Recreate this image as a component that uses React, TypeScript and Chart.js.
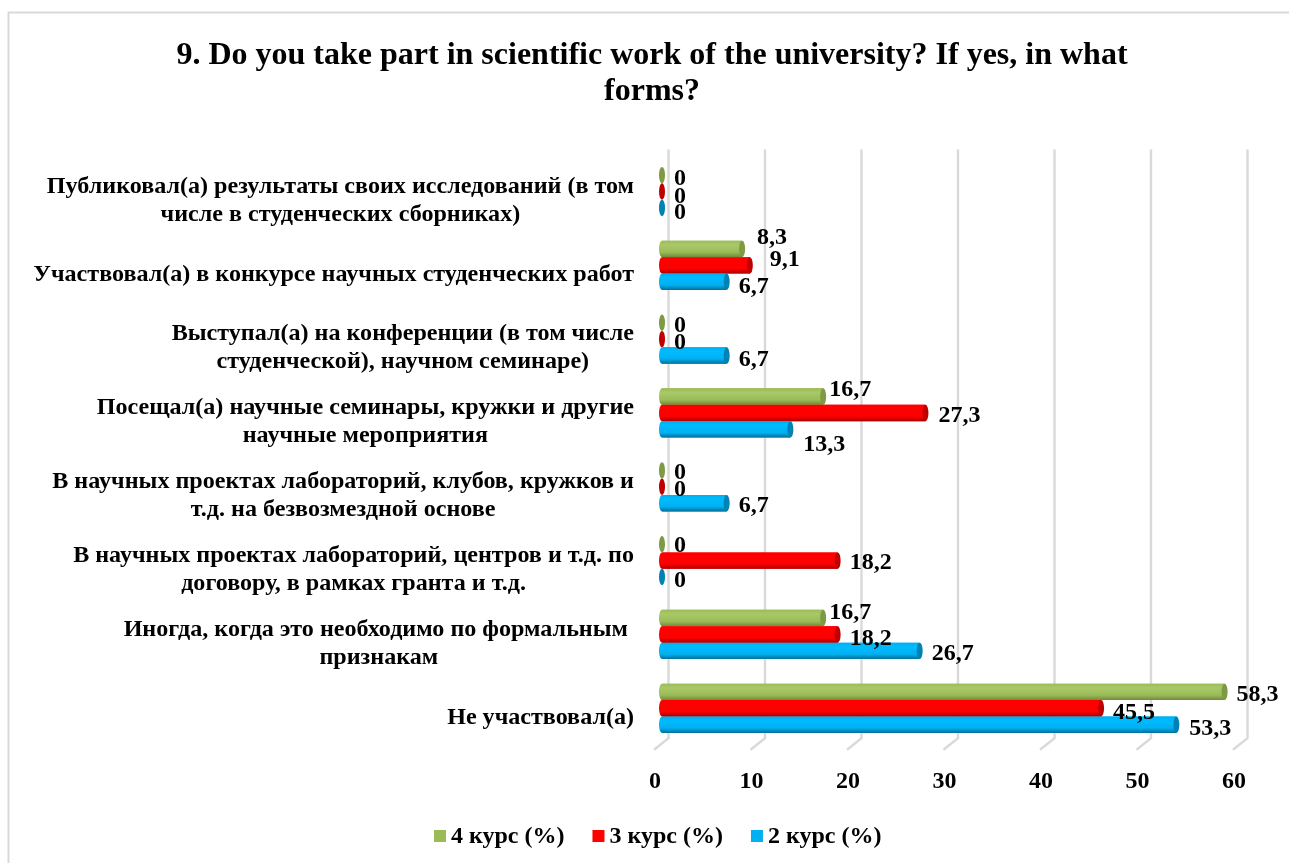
import React, { useEffect, useRef } from "react";
import { Chart, registerables } from "chart.js";

Chart.register(...registerables);

const TITLE_LINES = [
  "9. Do you take part in scientific work of the university? If yes, in what",
  "forms?",
];

const CATEGORY_LINES = [
  ["Публиковал(а) результаты своих исследований (в том", "числе в студенческих сборниках)"],
  ["Участвовал(а) в конкурсе научных студенческих работ"],
  ["Выступал(а) на конференции (в том числе", "студенческой), научном семинаре)"],
  ["Посещал(а) научные семинары, кружки и другие", "научные мероприятия"],
  ["В научных проектах лабораторий, клубов, кружков и", "т.д. на безвозмездной основе"],
  ["В научных проектах лабораторий, центров и т.д. по", "договору, в рамках гранта и т.д."],
  ["Иногда, когда это необходимо по формальным ", "признакам"],
  ["Не участвовал(а)"],
];

const COURSE_4 = [0, 8.3, 0, 16.7, 0, 0, 16.7, 58.3];
const COURSE_3 = [0, 9.1, 0, 27.3, 0, 18.2, 18.2, 45.5];
const COURSE_2 = [0, 6.7, 6.7, 13.3, 6.7, 0, 26.7, 53.3];

const SERIES_NAMES = ["4 курс (%)", "3 курс (%)", "2 курс (%)"];
const SERIES_COLORS = ["#9BBB59", "#FF0000", "#00B0F0"];
const SERIES_DARK = ["#6F8A3A", "#A80000", "#006F9A"];
const SERIES_LIGHT = ["#A9C866", "#FF0000", "#00BBFF"];
const SERIES_CAP = ["#7E9A45", "#C00000", "#0083B3"];

// Label nudges, [dx from bar end, dy from bar centre], per series then per category.
const LABEL_SHIFTS: number[][][] = [
  [[18, 2], [30, -13], [18, 1], [27, -9], [18, 0], [18, 0], [27, -7], [33, 1]],
  [[18, 3], [35, -8], [18, 2], [34, 1], [18, 1], [33, 0], [33, 2], [33, 3]],
  [[18, 3], [27, 3], [27, 2], [34, 13], [27, 1], [18, 2], [33, 1], [34, 2]],
];

const SERIF = '"Liberation Serif", "Times New Roman", serif';
const GRID = "#D9D9D9";
const fmt = (v: number) => String(v).replace(".", ",");

const frame3d = {
  id: "frame3d",
  beforeDatasetsDraw(chart: any) {
    const { ctx, scales, chartArea } = chart;
    ctx.save();
    ctx.strokeStyle = GRID;
    ctx.lineWidth = 2;
    ctx.beginPath();
    ctx.moveTo(8.5, chart.height);
    ctx.lineTo(8.5, 12.5);
    ctx.lineTo(chart.width, 12.5);
    ctx.stroke();
    ctx.lineWidth = 2.4;
    scales.x.ticks.forEach((t: any) => {
      const x = scales.x.getPixelForValue(t.value);
      ctx.beginPath();
      ctx.moveTo(x + 6.5, chartArea.top - 5);
      ctx.lineTo(x + 6.5, chartArea.bottom - 7);
      ctx.lineTo(x - 8, chartArea.bottom + 4.5);
      ctx.stroke();
    });
    ctx.restore();
  },
};

const cylinders = {
  id: "cylinders",
  afterDatasetsDraw(chart: any) {
    const { ctx } = chart;
    ctx.save();
    chart.data.datasets.forEach((ds: any, d: number) => {
      chart.getDatasetMeta(d).data.forEach((bar: any, i: number) => {
        const p = bar.getProps(["x", "y", "base", "height"], true);
        const top = p.y - p.height / 2;
        const bottom = p.y + p.height / 2;
        const rx = 3;
        const ry = p.height / 2;
        if (ds.data[i] > 0) {
          const g = ctx.createLinearGradient(0, top, 0, bottom);
          g.addColorStop(0, SERIES_COLORS[d]);
          g.addColorStop(0.25, SERIES_LIGHT[d]);
          g.addColorStop(0.7, SERIES_COLORS[d]);
          g.addColorStop(1, SERIES_DARK[d]);
          ctx.fillStyle = g;
          ctx.beginPath();
          ctx.ellipse(p.base, p.y, rx, ry, 0, Math.PI / 2, (3 * Math.PI) / 2);
          ctx.lineTo(p.x, top);
          ctx.lineTo(p.x, bottom);
          ctx.closePath();
          ctx.fill();
        }
        ctx.fillStyle = SERIES_CAP[d];
        ctx.beginPath();
        ctx.ellipse(p.x, p.y, rx, ry, 0, 0, Math.PI * 2);
        ctx.fill();
      });
    });
    ctx.restore();
  },
  afterDraw(chart: any) {
    const { ctx, scales } = chart;
    ctx.save();
    ctx.fillStyle = "#000000";
    ctx.textBaseline = "middle";
    // value labels
    ctx.font = `bold 24px ${SERIF}`;
    ctx.textAlign = "center";
    chart.data.datasets.forEach((ds: any, d: number) => {
      chart.getDatasetMeta(d).data.forEach((bar: any, i: number) => {
        const [dx, dy] = LABEL_SHIFTS[d][i];
        ctx.fillText(fmt(ds.data[i]), bar.x + dx, bar.y + dy + 2);
      });
    });
    // category labels: each block centred on itself, right edge fixed
    ctx.font = `bold 24.1px ${SERIF}`;
    CATEGORY_LINES.forEach((lines, i) => {
      const w = Math.max(...lines.map((l) => ctx.measureText(l).width));
      const cx = 634 - w / 2;
      const cy = scales.y.getPixelForTick(i) + 9;
      lines.forEach((l, k) => {
        ctx.fillText(l, cx, cy + (k - (lines.length - 1) / 2) * 28);
      });
    });
    // legend
    ctx.font = `bold 24px ${SERIF}`;
    ctx.textAlign = "left";
    let x = 434;
    chart.data.datasets.forEach((ds: any, d: number) => {
      ctx.fillStyle = SERIES_COLORS[d];
      ctx.fillRect(x, 830, 12, 12);
      ctx.fillStyle = "#000000";
      ctx.fillText(ds.label, x + 17, 837);
      x += 17 + ctx.measureText(ds.label).width + 28;
    });
    ctx.restore();
  },
};

export default function App() {
  const ref = useRef<HTMLCanvasElement>(null);
  useEffect(() => {
    const chart = new Chart(ref.current as HTMLCanvasElement, {
      type: "bar",
      data: {
        labels: CATEGORY_LINES.map((l) => l.join(" ")),
        datasets: [COURSE_4, COURSE_3, COURSE_2].map((data, d) => ({
          label: SERIES_NAMES[d],
          data,
          backgroundColor: SERIES_COLORS[d],
          borderWidth: 0,
          categoryPercentage: 0.667,
          barPercentage: 1,
        })),
      },
      options: {
        indexAxis: "y",
        responsive: false,
        animation: false,
        layout: { padding: { left: 63, right: 48, top: 37, bottom: 53 } },
        plugins: {
          legend: { display: false },
          tooltip: { enabled: false },
          title: {
            display: true,
            text: TITLE_LINES,
            color: "#000000",
            font: { family: SERIF, size: 32, weight: "bold", lineHeight: 1.15 },
            padding: { top: 0, bottom: 44 },
          },
        },
        scales: {
          x: {
            min: 0,
            max: 60,
            grid: { display: false },
            border: { display: false },
            ticks: {
              stepSize: 10,
              maxRotation: 0,
              padding: 14,
              labelOffset: -7,
              color: "#000000",
              font: { family: SERIF, size: 24, weight: "bold" },
            },
          },
          y: {
            grid: { display: false },
            border: { display: false },
            ticks: { display: false },
            afterFit: (scale: any) => {
              scale.width = 599;
            },
          },
        },
      },
      plugins: [frame3d, cylinders],
    } as any);
    return () => chart.destroy();
  }, []);
  return (
    <canvas
      ref={ref}
      width={1289}
      height={863}
      style={{ position: "absolute", left: 0, top: 0, display: "block" }}
    />
  );
}
